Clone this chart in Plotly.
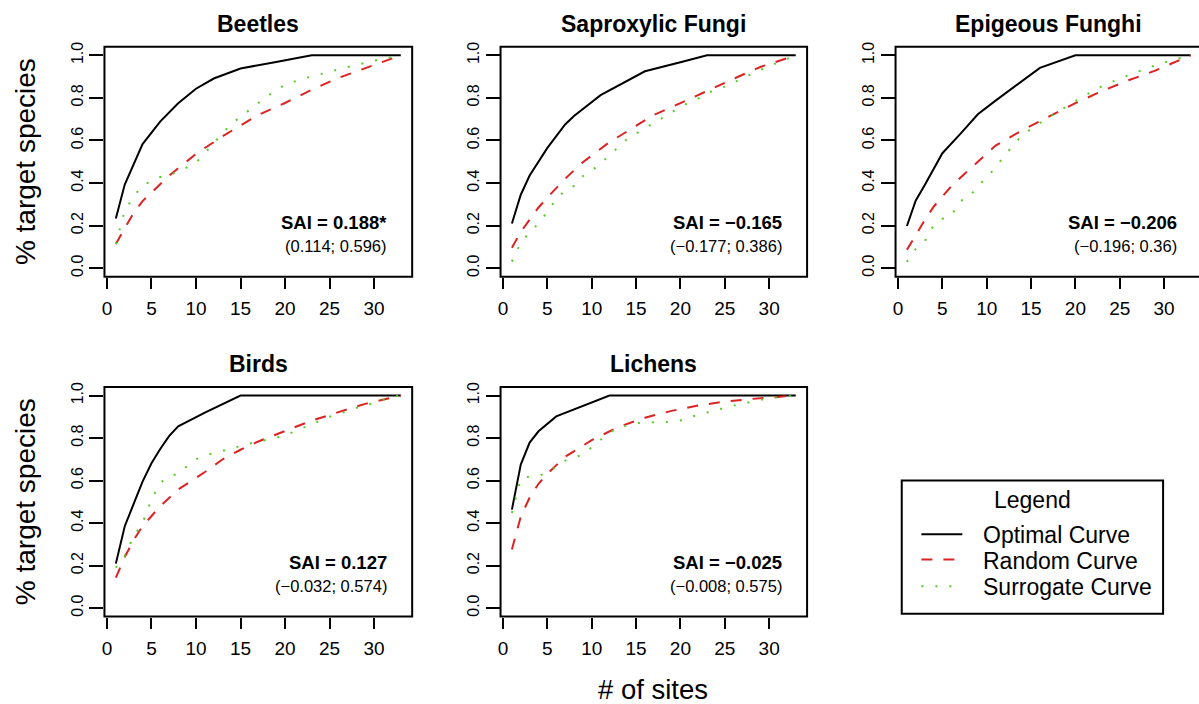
import plotly.graph_objects as go

W, H = 1199, 704
FONT = "Liberation Sans, Arial, Helvetica, sans-serif"

# ---------------- data ----------------
titles = ["Beetles", "Saproxylic Fungi", "Epigeous Funghi", "Birds", "Lichens"]

sai_main = ["SAI = 0.188*", "SAI = \u22120.165", "SAI = \u22120.206", "SAI = 0.127", "SAI = \u22120.025"]
sai_ci = ["(0.114; 0.596)", "(\u22120.177; 0.386)", "(\u22120.196; 0.36)", "(\u22120.032; 0.574)", "(\u22120.008; 0.575)"]

# Beetles
beetles_opt_x = [1, 2, 4, 6, 8, 10, 12, 15, 19, 23, 33]
beetles_opt_y = [0.233, 0.393, 0.583, 0.69, 0.775, 0.843, 0.891, 0.938, 0.969, 1.0, 1.0]
beetles_rand_x = [1, 2, 3, 4, 5, 7, 10, 13, 15, 17, 20, 23, 26, 29, 33]
beetles_rand_y = [0.114, 0.19, 0.26, 0.315, 0.355, 0.435, 0.537, 0.62, 0.67, 0.72, 0.776, 0.838, 0.894, 0.941, 1.0]
beetles_surr_x = [1, 2, 3, 4, 6, 8, 10, 11, 12, 13, 14, 15, 16, 17, 18, 19, 20, 22, 24, 26, 28, 30, 33]
beetles_surr_y = [0.114, 0.27, 0.335, 0.39, 0.428, 0.452, 0.495, 0.54, 0.585, 0.635, 0.68, 0.71, 0.745,
                  0.776, 0.808, 0.837, 0.862, 0.89, 0.912, 0.936, 0.955, 0.975, 1.0]

# Saproxylic Fungi
sapro_opt_x = [1, 2, 3, 5, 7, 8, 11, 16, 20, 23, 33]
sapro_opt_y = [0.21, 0.345, 0.435, 0.565, 0.675, 0.715, 0.813, 0.925, 0.967, 1.0, 1.0]
sapro_rand_x = [1, 2, 3, 4, 5, 7, 9, 12, 14, 17, 20, 23, 26, 29, 33]
sapro_rand_y = [0.096, 0.17, 0.228, 0.285, 0.332, 0.42, 0.498, 0.592, 0.643, 0.72, 0.775, 0.834, 0.89, 0.945, 1.0]
sapro_surr_x = list(range(1, 34))
sapro_surr_y = [0.031, 0.12, 0.168, 0.21, 0.265, 0.325, 0.365, 0.386, 0.432, 0.458, 0.492, 0.53, 0.57,
                0.607, 0.632, 0.657, 0.685, 0.71, 0.733, 0.757, 0.779, 0.797, 0.821, 0.84, 0.853,
                0.873, 0.893, 0.911, 0.931, 0.95, 0.966, 0.982, 1.0]

# Epigeous Funghi
epi_opt_x = [1, 2, 3, 4, 5, 7, 9, 11, 13, 16, 20, 33]
epi_opt_y = [0.198, 0.318, 0.39, 0.467, 0.54, 0.63, 0.723, 0.787, 0.85, 0.941, 1.0, 1.0]
epi_rand_x = [1, 2, 3, 4, 5, 6, 9, 11, 14, 17, 20, 23, 26, 29, 33]
epi_rand_y = [0.086, 0.158, 0.225, 0.288, 0.334, 0.385, 0.5, 0.576, 0.648, 0.711, 0.775, 0.832, 0.883, 0.928, 1.0]
epi_surr_x = list(range(1, 34))
epi_surr_y = [0.03, 0.09, 0.125, 0.2, 0.232, 0.246, 0.315, 0.332, 0.386, 0.425, 0.475, 0.527, 0.579,
              0.625, 0.655, 0.682, 0.708, 0.732, 0.76, 0.785, 0.81, 0.833, 0.855, 0.874, 0.89,
              0.907, 0.923, 0.94, 0.953, 0.966, 0.978, 0.99, 1.0]

# Birds
birds_opt_x = [1, 2, 3, 4, 5, 6, 7, 8, 11, 15, 33]
birds_opt_y = [0.209, 0.385, 0.49, 0.595, 0.681, 0.75, 0.81, 0.855, 0.92, 1.0, 1.0]
birds_rand_x = [1, 2, 3, 4, 6, 8, 11, 13, 15, 17, 20, 23, 26, 29, 33]
birds_rand_y = [0.143, 0.24, 0.32, 0.385, 0.48, 0.558, 0.64, 0.7, 0.745, 0.784, 0.833, 0.882, 0.922, 0.961, 1.0]
birds_surr_x = [1, 2, 3, 4, 5, 6, 7, 8, 9, 10, 11, 12, 14, 16, 18, 20, 21, 22, 23, 24, 25, 26, 27,
                28, 29, 30, 31, 32, 33]
birds_surr_y = [0.19, 0.245, 0.338, 0.4, 0.512, 0.59, 0.62, 0.632, 0.668, 0.7, 0.718, 0.73, 0.751,
                0.774, 0.792, 0.811, 0.83, 0.848, 0.866, 0.884, 0.9, 0.913, 0.929, 0.942, 0.953,
                0.968, 0.98, 0.993, 1.0]

# Lichens
lich_opt_x = [1, 2, 3, 4, 6, 12, 33]
lich_opt_y = [0.463, 0.675, 0.779, 0.832, 0.902, 1.0, 1.0]
lich_rand_x = [1, 2, 3, 4, 5, 7, 10, 13, 16, 19, 22, 25, 28, 31, 33]
lich_rand_y = [0.276, 0.43, 0.52, 0.585, 0.632, 0.712, 0.79, 0.852, 0.896, 0.928, 0.953, 0.972, 0.984, 0.995, 1.0]
lich_surr_x = list(range(1, 34))
lich_surr_y = [0.447, 0.61, 0.619, 0.622, 0.636, 0.665, 0.694, 0.705, 0.725, 0.757, 0.793, 0.826,
               0.845, 0.86, 0.87, 0.874, 0.875, 0.875, 0.877, 0.883, 0.898, 0.91, 0.92, 0.933,
               0.943, 0.953, 0.962, 0.971, 0.981, 0.988, 0.993, 0.997, 1.0]

curves = [
    (beetles_opt_x, beetles_opt_y, beetles_rand_x, beetles_rand_y, beetles_surr_x, beetles_surr_y),
    (sapro_opt_x, sapro_opt_y, sapro_rand_x, sapro_rand_y, sapro_surr_x, sapro_surr_y),
    (epi_opt_x, epi_opt_y, epi_rand_x, epi_rand_y, epi_surr_x, epi_surr_y),
    (birds_opt_x, birds_opt_y, birds_rand_x, birds_rand_y, birds_surr_x, birds_surr_y),
    (lich_opt_x, lich_opt_y, lich_rand_x, lich_rand_y, lich_surr_x, lich_surr_y),
]

x_ticks = [0, 5, 10, 15, 20, 25, 30]
y_ticks = [0.0, 0.2, 0.4, 0.6, 0.8, 1.0]
y_ticklabels = ["0.0", "0.2", "0.4", "0.6", "0.8", "1.0"]
legend_labels = ["Optimal Curve", "Random Curve", "Surrogate Curve"]

# ---------------- styling / layout ----------------
BLACK = "#000000"
RED = "#dd2222"
GREEN = "#55cc22"
styles = [dict(color=BLACK, width=2),
          dict(color=RED, width=2, dash="11px,11px"),
          dict(color=GREEN, width=2, dash="2px,12px")]

# panel boxes in pixels: (left, right, x-range right end) and (top, bottom)
cols = [(101.7, 410.2, 34.28), (498.8, 806.1, 34.28), (894.8, 1199.0, 33.94)]
rows = [(42.1, 273.6), (384.8, 615.9)]
panel_pos = [(0, 0), (1, 0), (2, 0), (0, 1), (1, 1)]


def fx(p):
    return p / W


def fy(p):
    return 1 - p / H


fig = go.Figure()
layout = dict(width=W, height=H, margin=dict(l=0, r=0, t=0, b=0),
              paper_bgcolor="white", plot_bgcolor="white", showlegend=False,
              font=dict(family=FONT, color=BLACK))
shapes = []
annotations = []

for i, (c, r) in enumerate(panel_pos):
    n = i + 1
    L, R, xr = cols[c]
    T, B = rows[r]
    xa = "xaxis" if n == 1 else f"xaxis{n}"
    ya = "yaxis" if n == 1 else f"yaxis{n}"
    xref = "x" if n == 1 else f"x{n}"
    yref = "y" if n == 1 else f"y{n}"
    layout[xa] = dict(domain=[fx(L), fx(R)], range=[-0.28, xr], anchor=yref,
                      tickvals=x_ticks, ticktext=[str(v) for v in x_ticks],
                      ticks="outside", ticklen=11, tickwidth=2, tickcolor=BLACK,
                      showgrid=False, zeroline=False, showline=False,
                      tickfont=dict(size=19, family=FONT), ticklabelstandoff=4,
                      fixedrange=True)
    layout[ya] = dict(domain=[fy(B), fy(T)], range=[-0.04, 1.04], anchor=xref,
                      tickvals=y_ticks, ticktext=y_ticklabels, tickangle=-90,
                      ticks="outside", ticklen=14, tickwidth=2, tickcolor=BLACK,
                      showgrid=False, zeroline=False, showline=False,
                      tickfont=dict(size=16, family=FONT), fixedrange=True)
    ox, oy, rx, ry, sx, sy = curves[i]
    for (xx, yy), st, nm in zip([(ox, oy), (rx, ry), (sx, sy)], styles, legend_labels):
        fig.add_trace(go.Scatter(x=xx, y=yy, mode="lines", line=st, name=nm,
                                 xaxis=xref, yaxis=yref, hoverinfo="skip"))
    # frame
    right_edge = R if c < 2 else 1202.0
    shapes.append(dict(type="rect", xref="paper", yref="paper",
                       x0=fx(L), x1=fx(right_edge), y0=fy(B), y1=fy(T),
                       line=dict(color=BLACK, width=2), layer="above"))
    # title
    annotations.append(dict(text=f"<b>{titles[i]}</b>", xref="paper", yref="paper",
                            x=fx((L + right_edge) / 2), y=fy(T - 23), xanchor="center",
                            yanchor="middle", showarrow=False,
                            font=dict(size=23, family=FONT)))
    # SAI text
    annotations.append(dict(text=f"<b>{sai_main[i]}</b>", xref=xref, yref=yref,
                            x=31.65, y=0.213, xanchor="right", yanchor="middle",
                            showarrow=False, font=dict(size=18.5, family=FONT)))
    annotations.append(dict(text=sai_ci[i], xref=xref, yref=yref,
                            x=31.65, y=0.106, xanchor="right", yanchor="middle",
                            showarrow=False, font=dict(size=16.5, family=FONT)))

# axis titles
for yc in [157.8, 500.3]:
    annotations.append(dict(text="% target species", xref="paper", yref="paper",
                            x=fx(22.5), y=fy(yc), xanchor="center", yanchor="middle",
                            textangle=-90, showarrow=False, font=dict(size=28, family=FONT)))
annotations.append(dict(text="# of sites", xref="paper", yref="paper",
                        x=fx(651.7), y=fy(689), xanchor="center", yanchor="middle",
                        showarrow=False, font=dict(size=27.5, family=FONT)))

# legend box (drawn manually to match the reference)
shapes.append(dict(type="rect", xref="paper", yref="paper",
                   x0=fx(901), x1=fx(1163), y0=fy(613), y1=fy(479),
                   line=dict(color=BLACK, width=2)))
annotations.append(dict(text="Legend", xref="paper", yref="paper", x=fx(1031.7), y=fy(499),
                        xanchor="center", yanchor="middle", showarrow=False,
                        font=dict(size=23, family=FONT)))
for lab, st, yc in zip(legend_labels, styles, [533, 558.5, 585.5]):
    shapes.append(dict(type="line", xref="paper", yref="paper",
                       x0=fx(920.7), x1=fx(961.7), y0=fy(yc), y1=fy(yc), line=st))
    annotations.append(dict(text=lab, xref="paper", yref="paper", x=fx(980.5), y=fy(yc + 1),
                            xanchor="left", yanchor="middle", showarrow=False,
                            font=dict(size=23, family=FONT)))

layout["shapes"] = shapes
layout["annotations"] = annotations
fig.update_layout(**layout)
fig.write_html("out.html")
